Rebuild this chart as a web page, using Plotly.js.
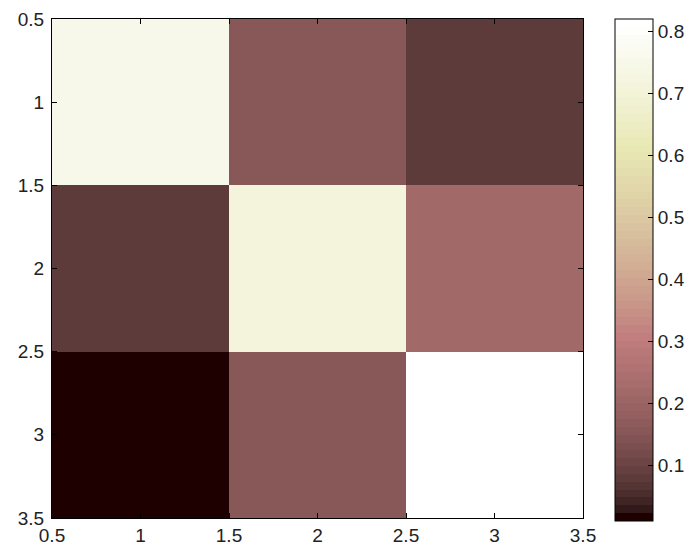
<!DOCTYPE html>
<html>
<head>
<meta charset="utf-8">
<script src="https://cdn.plot.ly/plotly-3.0.1.min.js"></script>
<style>html,body{margin:0;padding:0;background:#fff;}#chart{width:690px;height:545px;}</style>
</head>
<body>
<div id="chart"></div>
<script>
// Data (matrix values)
const xCats = [1, 2, 3];
const yCats = [1, 2, 3];
const row1 = [0.75, 0.156, 0.08];
const row2 = [0.08, 0.713, 0.219];
const row3 = [0.012, 0.16, 0.82];
const zMin = 0.01;
const zMax = 0.82;
const axisTicks = [0.5, 1, 1.5, 2, 2.5, 3, 3.5];
const axisTickText = ['0.5', '1', '1.5', '2', '2.5', '3', '3.5'];
const cbTicks = [0.1, 0.2, 0.3, 0.4, 0.5, 0.6, 0.7, 0.8];
const cbTickText = ['0.1', '0.2', '0.3', '0.4', '0.5', '0.6', '0.7', '0.8'];

// MATLAB "pink" colormap, 64 steps, as a stepped colorscale
function pinkScale(m) {
  const n = Math.floor(3 / 8 * m);
  const scale = [];
  for (let k = 0; k < m; k++) {
    const i = k + 1;
    const gr = k / (m - 1);
    const hr = i <= n ? i / n : 1;
    const hg = i <= n ? 0 : (i <= 2 * n ? (i - n) / n : 1);
    const hb = i <= 2 * n ? 0 : (i - 2 * n) / (m - 2 * n);
    const c = [hr, hg, hb].map(h => Math.round(255 * Math.sqrt((2 * gr + h) / 3)));
    const col = 'rgb(' + c.join(',') + ')';
    scale.push([k / m, col]);
    scale.push([(k + 1) / m, col]);
  }
  return scale;
}
const cs = pinkScale(64);
const FONT = { family: 'Liberation Sans, Arial, sans-serif', size: 19, color: '#222' };
const CBX = 1.06;

// Left-side tick marks of the colorbar (same matrix, zero-thickness bar)
const traceTicks = {
  type: 'heatmap',
  x: xCats, y: yCats, z: [row1, row2, row3],
  zmin: zMin, zmax: zMax, colorscale: cs,
  hoverinfo: 'skip',
  colorbar: {
    x: CBX, xanchor: 'left', xpad: 0,
    y: 1.0, yanchor: 'top', ypad: 0,
    lenmode: 'pixels', len: 502,
    thickness: 0, thicknessmode: 'pixels',
    outlinewidth: 0,
    tickvals: cbTicks,
    ticks: 'outside', ticklen: 5, tickcolor: '#000', tickwidth: 1,
    showticklabels: false
  }
};

const trace = {
  type: 'heatmap',
  x: xCats, y: yCats, z: [row1, row2, row3],
  zmin: zMin, zmax: zMax, colorscale: cs,
  hoverinfo: 'x+y+z',
  colorbar: {
    x: CBX, xanchor: 'left', xpad: 0,
    y: 1.0, yanchor: 'top', ypad: 0,
    lenmode: 'pixels', len: 502,
    thickness: 38, thicknessmode: 'pixels',
    outlinecolor: '#000', outlinewidth: 1,
    tickvals: cbTicks, ticktext: cbTickText,
    ticks: 'inside', ticklen: 5, tickcolor: '#000', tickwidth: 1,
    tickfont: FONT
  }
};

const axisCommon = {
  tickvals: axisTicks, ticktext: axisTickText,
  ticks: 'inside', ticklen: 5, tickcolor: '#000', tickwidth: 1,
  showline: true, linecolor: '#000', linewidth: 1, mirror: 'ticks',
  showgrid: false, zeroline: false,
  tickfont: FONT
};

const layout = {
  width: 690, height: 545,
  margin: { l: 52, r: 107, t: 19, b: 27, pad: 0, autoexpand: false },
  paper_bgcolor: '#fff', plot_bgcolor: '#fff',
  xaxis: Object.assign({}, axisCommon, { range: [0.5, 3.5] }),
  yaxis: Object.assign({}, axisCommon, { range: [3.5, 0.5], ticklabelstandoff: 3 }),
  showlegend: false
};

Plotly.newPlot('chart', [traceTicks, trace], layout, { displayModeBar: false, staticPlot: true });
</script>
</body>
</html>
